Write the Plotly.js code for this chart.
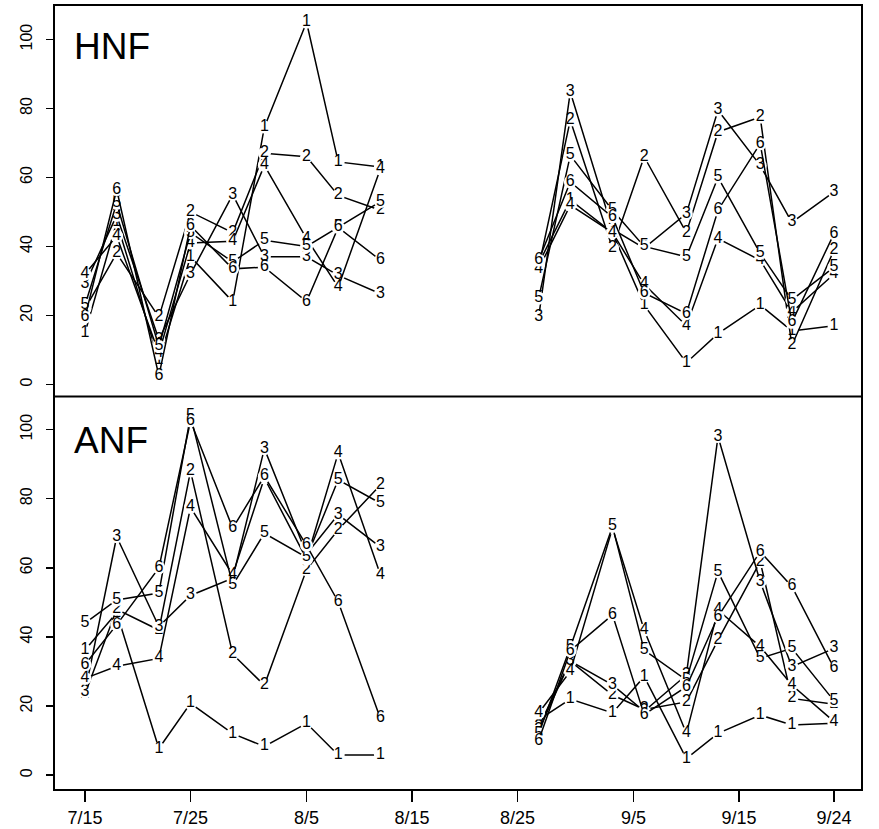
<!DOCTYPE html>
<html>
<head>
<meta charset="utf-8">
<script src="https://cdn.plot.ly/plotly-3.0.1.min.js"></script>
<style>html,body{margin:0;padding:0;background:#fff}#chart{width:879px;height:829px}</style>
</head>
<body>
<div id="chart"></div>
<script>
// Sampling dates (two field periods)
const datesEarly = ['2000-07-15','2000-07-18','2000-07-22','2000-07-25','2000-07-29','2000-08-01','2000-08-05','2000-08-08','2000-08-12'];
const datesLate  = ['2000-08-27','2000-08-30','2000-09-03','2000-09-06','2000-09-10','2000-09-13','2000-09-17','2000-09-20','2000-09-24'];
const gapDate = '2000-08-20';

// Tick labels
const tickDates  = ['2000-07-15','2000-07-25','2000-08-05','2000-08-15','2000-08-25','2000-09-05','2000-09-15','2000-09-24'];
const tickLabels = ['7/15','7/25','8/5','8/15','8/25','9/5','9/15','9/24'];
const yTicks = [0,20,40,60,80,100];

const seriesNames = ['1','2','3','4','5','6'];

// HNF (top panel), 18 values each: 9 early dates then 9 late dates
const hnf1 = [15, 47, 7, 37, 24, 74.6, 105, 64.5, 63,    35, 53.5, 44, 23, 6.3, 14.7, 23, 15.5, 17];
const hnf2 = [22, 38, 19.5, 50, 44, 67, 66, 54.8, 50.5,  34, 76.6, 39.5, 66, 44, 73.2, 77.5, 11.3, 39];
const hnf3 = [29, 49, 13, 32, 55, 37, 37, 31.6, 26.3,    19.5, 84.8, 45, 39.5, 49.5, 79.5, 63.5, 47, 55.8];
const hnf4 = [32, 43, 9, 41, 41.5, 63.5, 42.3, 28.2, 62.5, 33.5, 52, 44, 29, 17, 42.3, 36, 21, 32];
const hnf5 = [23, 52.5, 11, 44, 35.5, 41.8, 40, 45.5, 53,  25, 66.4, 50.5, 40, 37, 60, 38, 24.5, 34];
const hnf6 = [19.5, 56.5, 2.5, 46, 33.5, 34, 24, 45.5, 36, 36, 58.7, 48.5, 26.5, 20.5, 50.5, 69.8, 18, 43.7];

// ANF (bottom panel)
const anf1 = [36.2, 47, 7.7, 20.8, 12, 8.3, 15, 5.8, 5.8,   16, 22, 18, 28.5, 4.8, 12.1, 17.4, 14.5, 15];
const anf2 = [23.5, 48, 42, 88, 35, 26, 59.5, 71, 84,       14, 33, 23.2, 19, 21.2, 39.1, 61.8, 22.2, 20.5];
const anf3 = [24, 69, 43, 52, 57, 94.5, 64, 75.4, 66,       13, 33, 26.1, 18.5, 29, 98, 56, 31.4, 36.7];
const anf4 = [28, 31.5, 33.8, 77.5, 58, 86, 62.5, 93.2, 58, 18, 30, 71.5, 42, 12.1, 47.8, 37.2, 26.1, 15.5];
const anf5 = [44, 50.7, 52.7, 104, 55, 70, 63, 85.5, 78.7,  12, 37, 72, 36.2, 27.5, 58.9, 33.8, 36.7, 21.5];
const anf6 = [32, 43.5, 60, 102.5, 71.5, 86.5, 66.5, 50.2, 16.4, 10, 36, 46.4, 17.5, 25.6, 45.9, 64.7, 54.6, 31];

const hnfSeries = [hnf1, hnf2, hnf3, hnf4, hnf5, hnf6];
const anfSeries = [anf1, anf2, anf3, anf4, anf5, anf6];

const nEarly = datesEarly.length;
const xAll = [...datesEarly, gapDate, ...datesLate];

function makeTrace(vals, name, yaxis) {
  const y = [...vals.slice(0, nEarly), null, ...vals.slice(nEarly)];
  const text = y.map(v => v === null ? '' : name);
  return {
    x: xAll, y: y, text: text, name: name, yaxis: yaxis, xaxis: 'x',
    type: 'scatter', mode: 'lines+markers+text',
    textposition: 'middle center',
    textfont: {family: 'Liberation Sans, Arial, sans-serif', size: 16, color: '#000'},
    line: {color: '#000', width: 1.5},
    marker: {color: '#fff', size: 13, line: {width: 0}},
    cliponaxis: false,
    connectgaps: false,
    showlegend: false,
    hoverinfo: 'skip'
  };
}

const traces = [];
hnfSeries.forEach((s, i) => traces.push(makeTrace(s, seriesNames[i], 'y')));
anfSeries.forEach((s, i) => traces.push(makeTrace(s, seriesNames[i], 'y2')));

const split = 0.5013;
const axFont = {family: 'Liberation Sans, Arial, sans-serif', size: 16, color: '#000'};

const layout = {
  width: 879, height: 829,
  margin: {l: 54, r: 17, t: 5, b: 39},
  paper_bgcolor: '#fff', plot_bgcolor: '#fff',
  showlegend: false,
  xaxis: {
    type: 'date', range: ['2000-07-12 01:26', '2000-09-26 15:36'],
    tickmode: 'array', tickvals: tickDates, ticktext: tickLabels,
    ticks: 'outside', ticklen: 11, tickwidth: 1.5, tickcolor: '#000',
    tickfont: {family: 'Liberation Sans, Arial, sans-serif', size: 18, color: '#000'},
    ticklabelstandoff: 0,
    showgrid: false, zeroline: false, showline: false,
    anchor: 'y2'
  },
  yaxis: {
    domain: [split, 1], range: [-3.5, 110],
    tickmode: 'array', tickvals: yTicks, tickangle: -90,
    ticks: 'outside', ticklen: 7, tickwidth: 1.5, tickcolor: '#000',
    tickfont: axFont, ticklabelstandoff: 8,
    showgrid: false, zeroline: false, showline: false, anchor: 'x'
  },
  yaxis2: {
    domain: [0, split], range: [-4.3, 109.6],
    tickmode: 'array', tickvals: yTicks, tickangle: -90,
    ticks: 'outside', ticklen: 7, tickwidth: 1.5, tickcolor: '#000',
    tickfont: axFont, ticklabelstandoff: 8,
    showgrid: false, zeroline: false, showline: false, anchor: 'x'
  },
  shapes: [
    {type: 'rect', xref: 'paper', yref: 'paper', x0: 0, x1: 1, y0: 0, y1: 1, line: {color: '#000', width: 2}},
    {type: 'line', xref: 'paper', yref: 'paper', x0: 0, x1: 1, y0: split, y1: split, line: {color: '#000', width: 2}}
  ],
  annotations: [
    {text: 'HNF', xref: 'paper', yref: 'paper', x: 0.0223, y: 0.9475, xanchor: 'left', yanchor: 'middle', showarrow: false,
     font: {family: 'Liberation Sans, Arial, sans-serif', size: 37, color: '#000'}},
    {text: 'ANF', xref: 'paper', yref: 'paper', x: 0.0223, y: 0.4455, xanchor: 'left', yanchor: 'middle', showarrow: false,
     font: {family: 'Liberation Sans, Arial, sans-serif', size: 37, color: '#000'}}
  ]
};

Plotly.newPlot('chart', traces, layout, {displayModeBar: false, staticPlot: true});
</script>
</body>
</html>
